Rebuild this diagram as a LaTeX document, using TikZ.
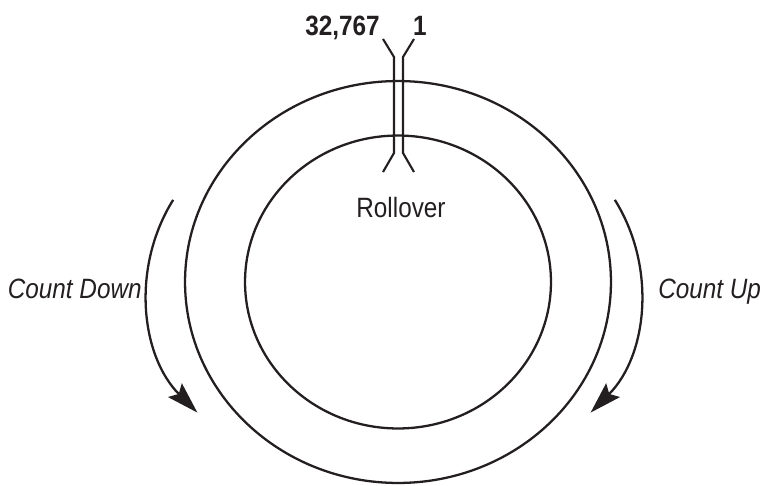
\documentclass[tikz,border=0pt]{standalone}
\usepackage{fontspec}
\setmainfont{Liberation Sans}[FakeStretch=0.87]
\usepackage{tikz}
\usetikzlibrary{arrows.meta,positioning}
\definecolor{ink}{HTML}{231F20}

\begin{document}
\begin{tikzpicture}[x=0.02cm, y=0.02cm,
    every node/.style={font=\fontsize{15.9}{18}\selectfont, text=ink, inner sep=0pt},
    ring/.style={draw=ink, line width=1.3pt},
    wire/.style={draw=ink, line width=1.2pt},
    turn/.style={draw=ink, line width=1.3pt, -{Stealth[length=18pt, width=11pt, inset=3pt]}}]
  \useasboundingbox (0,0) rectangle (761,485);

  \coordinate (mid) at (398,203);
  \draw[ring] (mid) ellipse [x radius=4.26cm, y radius=4.02cm];
  \draw[ring] (mid) ellipse [x radius=3.06cm, y radius=2.93cm];

  % rollover cut
  \coordinate (la) at (383,446);
  \coordinate (lb) at (394,428);
  \coordinate (lc) at (394,332);
  \coordinate (ld) at (383,313);
  \coordinate (ra) at (414,446);
  \coordinate (rb) at (403,428);
  \coordinate (rc) at (403,332);
  \coordinate (rd) at (414,313);
  \draw[wire] (la) -- (lb) -- (lc) -- (ld);
  \draw[wire] (ra) -- (rb) -- (rc) -- (rd);

  \node[anchor=base east, font=\fontsize{15.9}{18}\selectfont\bfseries] (max) at (380,450) {32,767};
  \node[anchor=base, font=\fontsize{15.9}{18}\selectfont\bfseries] (one) at (420,450) {1};
  \node[anchor=base] (roll) at (401,268) {Rollover};

  % direction arrows
  \coordinate (cl) at (319,194);
  \coordinate (cr) at (469,194);
  \draw[turn] (cl) ++(148:3.44cm) arc[start angle=148, end angle=225, radius=3.44cm];
  \draw[turn] (cr) ++(32:3.44cm) arc[start angle=32, end angle=-45, radius=3.44cm];

  \node[anchor=base east, font=\fontsize{15.9}{18}\selectfont\itshape] (down) at (142,187) {Count Down};
  \node[anchor=base west, font=\fontsize{15.9}{18}\selectfont\itshape] (up) at (658,187) {Count Up};
\end{tikzpicture}
\end{document}
